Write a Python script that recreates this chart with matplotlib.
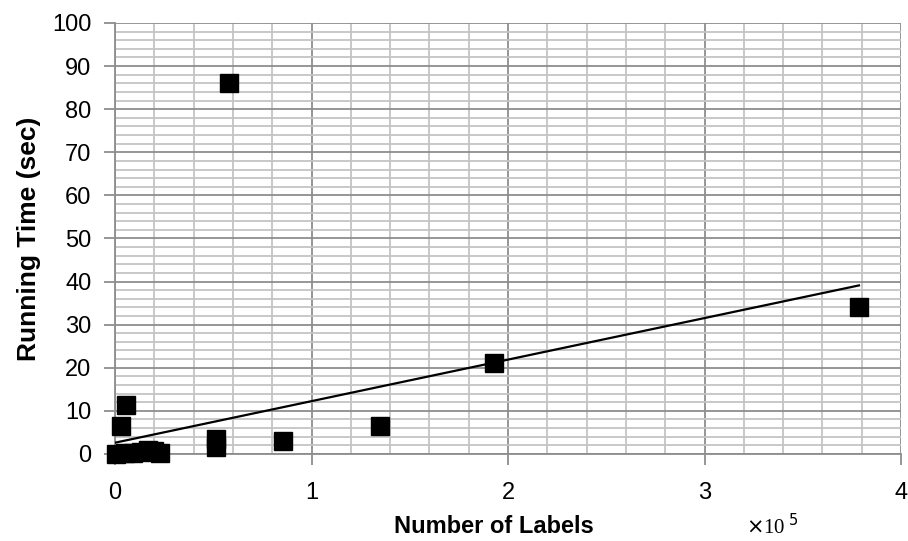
import matplotlib
matplotlib.use("Agg")
import matplotlib.pyplot as plt
from matplotlib.ticker import MultipleLocator

# Number of labels (in units of 1e5) and running time in seconds
labels_e5 = [0.005, 0.05, 0.09, 0.13, 0.17, 0.20, 0.23,
             0.03, 0.056, 0.514, 0.514, 0.58, 0.855, 1.35, 1.93, 3.786]
run_time = [0.0, 0.2, 0.2, 0.5, 0.8, 0.6, 0.1,
            6.5, 11.3, 3.5, 1.6, 86.0, 3.0, 6.5, 21.2, 34.0]

# Linear trend line end points
trend_x = [0.0, 3.786]
trend_y = [2.6, 39.1]

x_ticks = [0, 1, 2, 3, 4]
y_ticks = list(range(0, 101, 10))

plt.rcParams["font.family"] = ["Liberation Sans", "DejaVu Sans"]

fig = plt.figure(figsize=(9.08, 5.41), dpi=100)
ax = fig.add_axes([0.1267, 0.161, 0.8656, 0.7965])

ax.set_xlim(0, 4)
ax.set_ylim(0, 100)
ax.set_xticks(x_ticks)
ax.set_yticks(y_ticks)
ax.xaxis.set_minor_locator(MultipleLocator(0.2))
ax.yaxis.set_minor_locator(MultipleLocator(2))

ax.grid(which="minor", color="#c4c4c4", linewidth=1.3, zorder=0)
ax.grid(which="major", color="#8e8e8e", linewidth=1.3, zorder=0)
ax.set_axisbelow(True)

for side in ("top", "right"):
    ax.spines[side].set_visible(False)
for side in ("left", "bottom"):
    ax.spines[side].set_color("#8e8e8e")
    ax.spines[side].set_linewidth(1.3)

ax.tick_params(which="major", direction="out", length=8, width=1.3,
               color="#8e8e8e", labelsize=17)
ax.tick_params(axis="x", which="major", pad=12)
ax.tick_params(axis="y", which="major", pad=9)
ax.tick_params(which="minor", length=0)

ax.plot(trend_x, trend_y, color="black", linewidth=1.6, zorder=3)
ax.plot(labels_e5, run_time, linestyle="none", marker="s", markersize=13,
        markerfacecolor="black", markeredgecolor="black", zorder=4,
        clip_on=False)

ax.set_xlabel("Number of Labels", fontsize=17, fontweight="bold", labelpad=8)
ax.xaxis.label.set_x(0.482)
ax.set_ylabel("Running Time (sec)", fontsize=19, fontweight="bold", labelpad=8)

fig.text(0.822, 0.012, r"$\times$10$^{\;5}$", fontsize=15,
         family=["Liberation Serif", "DejaVu Serif"], ha="left", va="baseline")

fig.savefig("out.png", dpi=100)
